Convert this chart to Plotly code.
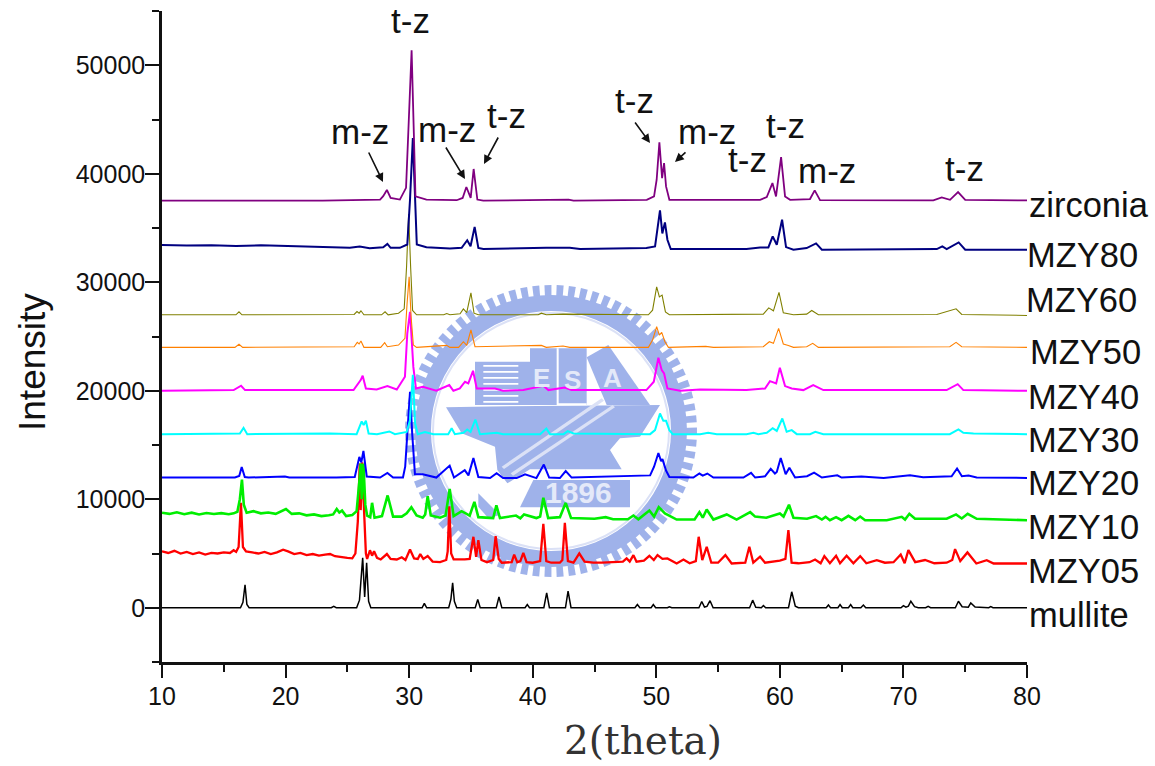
import math
import plotly.graph_objects as go

# ---- diffractogram readings: (2 theta, intensity) ----
mullite = [(10,0),(16.35,0),(16.55,500),(16.72,2120),(16.87,300),(17.05,0),(23.7,0),(23.9,120),(24.1,0),(25.75,0),(25.98,700),(26.1,2300),(26.24,4600),(26.4,1000),(26.56,4150),(26.72,600),(26.9,0),
 (31.05,0),(31.23,400),(31.42,0),(33.2,0),(33.38,800),(33.52,2300),(33.66,600),(33.85,0),(35.35,0),(35.55,770),(35.75,0),(37.05,0),(37.27,1000),(37.5,0),(39.38,0),(39.56,300),(39.74,0),
 (40.9,0),(41.13,1380),(41.35,0),(42.65,0),(42.86,1530),(43.1,0),(48.27,0),(48.47,300),(48.67,0),(49.58,0),(49.76,300),(49.95,0),(50.9,0),(51.06,90),(51.25,0),(53.45,0),(53.68,580),(53.9,60),(54.1,120),(54.35,650),(54.6,0),
 (57.55,0),(57.8,700),(58.05,50),(58.5,0),(58.67,200),(58.85,0),(60.7,0),(60.96,1470),(61.25,150),(61.5,0),(63.75,0),(63.93,250),(64.1,0),(64.7,0),(64.87,300),(65.05,0),(65.55,0),(65.73,300),(65.9,0),(66.55,0),(66.76,250),(66.95,0),
 (69.8,0),(70.0,200),(70.2,60),(70.4,150),(70.6,600),(70.9,100),(71.2,0),(71.8,0),(72.0,120),(72.2,0),(74.2,0),(74.45,600),(74.75,100),(75.25,50),(75.45,450),(75.8,60),(76.9,0),(77.07,100),(77.25,0),(80,0)]

mzy05 = [(10,5200),(10.5,5050),(11,5250),(11.5,5000),(12,5150),(12.5,4950),(13,5100),(13.5,4900),(14,5050),(14.5,5000),(15,5100),(15.5,5050),(15.8,5300),(16,5150),(16.2,5600),(16.39,9670),(16.55,5600),(16.8,5200),(17.3,5100),(17.8,5000),(18.3,5150),(18.8,4950),(19.3,5100),(19.8,5350),(20.2,5200),(20.7,4950),(21.2,5050),(21.7,4850),(22.2,4950),(22.7,4800),(23.2,4900),(23.6,4950),(24,4750),(24.5,4650),(25,4600),(25.4,4550),(25.65,5000),(25.85,8000),(26.0,13300),(26.08,9000),(26.2,13400),(26.35,9000),(26.5,5000),(26.6,4500),(26.83,5300),(27,4800),(27.16,5200),(27.4,4600),(27.7,4450),(28.2,4950),(28.5,4500),(29,4450),(29.4,4650),(29.7,4400),(30.07,5370),(30.4,4550),(30.7,4500),(30.9,4950),(31.15,4500),(31.5,4760),(31.9,4250),(32.5,4200),(33.0,4400),(33.12,5200),(33.25,9360),(33.4,5000),(33.6,4450),(34.5,4450),(34.9,4500),(35.2,6540),(35.42,4700),(35.6,6230),(35.85,4400),(36.3,4200),(36.8,4400),(37.0,6600),(37.25,4500),(37.5,4150),(38.3,4200),(38.5,4900),(38.75,4200),(39.0,4300),(39.24,5060),(39.5,4200),(40.0,4150),(40.6,4300),(40.86,7740),(41.1,4300),(41.5,4150),(42.2,4150),(42.4,4400),(42.6,7830),(42.85,4300),(43.3,4150),(43.77,5000),(44.2,4250),(44.9,4150),(45.6,4150),(46.5,4200),(47.3,4250),(47.6,4550),(47.85,4250),(48.15,4850),(48.4,4250),(49.0,4350),(49.44,4790),(49.8,4400),(50.1,4850),(50.5,4500),(50.9,4550),(51.65,4080),(52.2,4450),(52.7,4100),(53.2,4300),(53.43,6540),(53.72,4400),(54.08,5620),(54.45,4150),(55.0,4150),(55.59,4850),(56.1,4080),(57.2,4150),(57.53,5620),(57.85,4150),(58.4,4700),(58.8,4150),(60,4350),(60.45,4500),(60.69,7150),(60.95,4150),(61.5,4100),(62.4,4200),(62.85,4450),(63.3,4100),(63.6,4760),(64.05,4100),(64.55,4790),(64.87,4100),(65.4,4790),(65.95,4100),(66.5,4760),(67.0,4100),(67.84,4390),(68.5,4150),(69.2,4200),(69.78,4910),(70.1,4100),(70.4,5310),(70.95,4200),(71.75,4400),(72.5,4100),(73.5,4150),(73.95,4400),(74.18,5400),(74.6,4300),(75.18,5100),(75.9,4080),(76.74,4390),(77.3,4080),(80,4080)]

mzy10 = [(10,8750),(10.6,8650),(11.2,8800),(11.8,8620),(12.4,8760),(13,8600),(13.6,8730),(14.2,8640),(14.8,8720),(15.4,8620),(15.8,8700),(16.1,8850),(16.3,10000),(16.47,11800),(16.62,9500),(16.85,8750),(17.4,8900),(18,8700),(18.6,8780),(19.2,8650),(20.03,9100),(20.5,8650),(21.1,8700),(21.7,8520),(22.3,8600),(22.9,8450),(23.5,8520),(23.85,8600),(24.14,9100),(24.35,8780),(24.57,8950),(24.9,8450),(25.4,8550),(25.75,8900),(26.0,12000),(26.08,13300),(26.16,10000),(26.3,13300),(26.45,9500),(26.6,8500),(26.85,8350),(27.0,9670),(27.2,8300),(27.8,8450),(28.26,10350),(28.7,8400),(29.4,8400),(29.8,8700),(30.18,9270),(30.6,8500),(31.1,8300),(31.3,8600),(31.5,10280),(31.75,8500),(32.5,8300),(32.95,8500),(33.28,10960),(33.6,8450),(34.25,8900),(34.6,8700),(34.9,8500),(35.28,9760),(35.6,8350),(36.8,8270),(37.06,9430),(37.35,8270),(38.65,8500),(39.0,8250),(39.3,8600),(40.3,8270),(40.6,8400),(40.86,10130),(41.25,8270),(42.2,8350),(42.67,9670),(43.1,8270),(45.0,8200),(45.9,8350),(46.5,8150),(47.7,8150),(48.15,8500),(48.55,8150),(49.44,8960),(49.82,8400),(50.2,9270),(50.7,8700),(51.65,8130),(53.1,8130),(53.49,8810),(53.76,8300),(54.08,9060),(54.62,8130),(55.7,8600),(56.5,8130),(57.6,8810),(58.0,8400),(58.9,8300),(60.0,8690),(60.3,8400),(60.74,9490),(61.1,8300),(62.2,8200),(62.93,8450),(63.4,8130),(63.7,8380),(64.05,8070),(64.55,8350),(65.0,8070),(65.55,8470),(66.1,8070),(66.5,8410),(66.9,8070),(68.65,8070),(69.86,8380),(70.13,8130),(70.48,8660),(70.94,8200),(73.5,8200),(74.26,8600),(74.72,8230),(75.2,8660),(75.93,8200),(80,8070)]

mzy20 = [(10,12000),(13,12030),(15.9,12000),(16.25,12150),(16.45,12980),(16.7,12050),(17,12000),(19.95,12100),(20.3,12000),(24.1,12000),(25.6,12050),(25.97,13900),(26.13,13400),(26.3,14450),(26.57,12100),(27.65,12000),(28.24,12430),(28.7,12000),(29.5,12000),(29.68,13000),(29.87,16000),(30.07,19900),(30.25,16000),(30.47,12300),(31.1,12300),(32.2,12000),(33.28,13100),(33.63,12000),(34.5,12680),(34.8,12200),(35.2,13800),(35.6,12050),(36.55,11950),(37.08,12400),(37.6,11950),(38.7,11950),(39.38,12300),(40.3,11950),(40.9,13200),(41.33,12000),(42.2,11950),(42.67,12600),(43.15,12000),(48.28,12150),(49.5,12200),(49.82,13000),(50.17,14260),(50.39,13500),(50.5,13700),(50.79,12650),(51.06,12050),(53.0,12000),(53.49,12370),(53.76,12180),(54.13,12370),(54.62,12000),(57.05,12000),(57.67,12430),(58.0,12000),(58.8,12120),(59.26,12800),(59.6,12370),(59.75,12520),(60.07,13800),(60.47,12300),(60.77,12900),(61.23,12000),(62.2,12120),(62.77,12460),(63.4,12000),(64.65,12210),(65.0,12000),(66.6,12090),(68.4,11970),(70.53,12210),(71.6,12030),(73.9,12120),(74.34,12830),(74.73,12120),(75.27,12180),(75.93,12000),(80,11970)]

mzy30 = [(10,16000),(15.9,16000),(16.3,16050),(16.6,16580),(16.9,16000),(23.6,16060),(25.75,16000),(26.16,17170),(26.32,16840),(26.5,17230),(26.72,16060),(27.4,16000),(28.4,16250),(28.85,16000),(29.8,16200),(30.07,17300),(30.3,21470),(30.48,17000),(30.7,16000),(31.28,16200),(31.96,16000),(33.16,16000),(33.44,16550),(33.7,16000),(34.4,16120),(34.7,16430),(34.97,16200),(35.36,17350),(35.73,16000),(37.1,16120),(37.6,16000),(40.6,16000),(41.1,16520),(41.4,16000),(42.5,16000),(42.83,16280),(43.3,16060),(49.5,16000),(49.9,16370),(50.3,17900),(50.57,17230),(50.79,17230),(51.06,16370),(51.33,16000),(53.55,16000),(54.2,16120),(54.9,16000),(57.3,16000),(57.86,16120),(58.26,16000),(58.94,16120),(59.42,16550),(59.75,16300),(60.2,17440),(60.55,16220),(60.96,16370),(61.37,16000),(62.44,16000),(62.87,16220),(63.52,16000),(73.75,16000),(74.45,16430),(74.85,16120),(75.67,16060),(80,16000)]

mzy40 = [(10,20000),(15.8,20060),(16.4,20460),(16.72,20060),(25.5,20060),(25.9,20740),(26.08,20980),(26.24,21380),(26.5,20210),(27.37,20120),(28.24,20430),(29.0,20120),(29.66,21290),(29.85,25300),(30.07,27280),(30.34,22200),(30.55,20210),(31.1,20370),(32.2,20000),(33.25,20520),(33.58,20000),(34.1,20210),(34.52,20830),(34.79,20680),(35.17,21840),(35.47,20210),(36.95,20210),(37.6,20000),(39.24,20060),(40.86,20460),(41.27,20060),(42.6,20300),(43.14,20060),(49.2,20060),(49.8,20830),(50.17,23040),(50.44,21900),(50.63,21600),(50.9,20210),(51.93,20000),(53.55,20120),(57.3,20060),(58.8,20210),(59.2,20890),(59.7,20680),(60.0,22120),(60.42,20430),(60.96,20210),(61.9,20060),(62.7,20520),(63.52,20060),(73.5,20060),(74.39,20610),(74.85,20060),(80,20000)]

mzy50 = [(10,24000),(15.9,24000),(16.23,24280),(16.53,24000),(25.55,24060),(25.8,24460),(25.95,24310),(26.1,24580),(26.34,24000),(27.7,24000),(28.02,24430),(28.24,24060),(29.14,24210),(29.66,24830),(29.83,28000),(30.0,30500),(30.16,26800),(30.34,24210),(30.6,24000),(33.04,24180),(33.3,24000),(34.0,24000),(34.39,24520),(34.66,24180),(35.0,25600),(35.33,24060),(40.7,24180),(41.1,24000),(42.45,24120),(43.0,24000),(49.36,24000),(49.7,24670),(50.03,25900),(50.25,25130),(50.44,25380),(50.7,24520),(50.98,24000),(53.27,24060),(54.0,24090),(54.62,24000),(58.66,24060),(59.15,24520),(59.48,24370),(59.9,25750),(60.28,24310),(60.69,24180),(61.1,24000),(62.17,24060),(62.66,24370),(63.12,24000),(73.75,24060),(74.26,24460),(74.72,24060),(80,24000)]

mzy60 = [(10,27000),(15.98,27000),(16.23,27280),(16.47,27000),(25.55,27030),(25.78,27300),(25.95,27150),(26.1,27370),(26.34,27000),(27.77,27000),(28.05,27280),(28.3,27000),(29.14,27150),(29.6,27550),(29.79,31400),(29.96,36300),(30.12,31400),(30.28,27400),(30.6,27000),(32.8,27000),(33.04,27120),(33.3,27000),(34.12,27090),(34.39,27550),(34.66,27210),(35.0,29030),(35.25,27150),(35.6,27000),(40.45,27000),(40.7,27150),(41.1,27000),(42.45,27060),(49.36,27000),(49.7,27430),(50.03,29580),(50.25,28650),(50.47,28810),(50.74,27270),(51.06,27000),(58.66,27060),(59.1,27640),(59.48,27370),(59.93,29060),(60.28,27180),(61.1,27000),(62.17,27060),(62.58,27400),(63.12,27000),(72.7,27030),(74.26,27550),(74.72,27030),(80,26940)]

mzy80 = [(10,33440),(12,33380),(14,33420),(16,33350),(18,33400),(20,33340),(22,33300),(24,33230),(25.2,33170),(26,33290),(26.8,33130),(27.9,33230),(28.24,33530),(28.5,33170),(29.25,33170),(29.85,33480),(30.07,37600),(30.3,43300),(30.48,37600),(30.62,33480),(31.4,33230),(33.3,33100),(34.25,33170),(34.7,33870),(34.97,33320),(35.3,35100),(35.6,33170),(36,33070),(41.1,33170),(43,33170),(43.83,33060),(49.2,33150),(49.9,33300),(50.09,34840),(50.3,36620),(50.49,34500),(50.7,35520),(50.9,33920),(51.17,33060),(57.3,33060),(58.4,33210),(59.07,33210),(59.42,34230),(59.75,33460),(60.18,35760),(60.5,33240),(61.1,33000),(62.17,33150),(62.93,33580),(63.4,33000),(72.7,33060),(73.15,33300),(73.5,33060),(74.47,33670),(75.0,33000),(80,33000)]

zirconia = [(10,37525),(23,37525),(27.65,37620),(27.9,37930),(28.2,38510),(28.5,37770),(29.25,37620),(29.75,38700),(29.93,43760),(30.2,51370),(30.38,43760),(30.51,37920),(31.4,37620),(33.85,37560),(34.33,37770),(34.63,38780),(34.98,37770),(35.22,40440),(35.52,37620),(36,37525),(42.9,37620),(43.3,37525),(49.23,37600),(49.82,37910),(50.03,39450),(50.25,42890),(50.47,39600),(50.63,40980),(50.79,38830),(51.06,37600),(55.2,37600),(58.4,37600),(58.94,37850),(59.4,39140),(59.69,37910),(60.1,41540),(60.42,37910),(60.83,37600),(62.44,37670),(62.82,38470),(63.25,37570),(72.42,37540),(73.1,37820),(73.77,37600),(74.42,38310),(75.0,37600),(80,37540)]

series_names = ["mullite", "MZY05", "MZY10", "MZY20", "MZY40", "MZY30", "MZY50", "MZY60", "MZY80", "zirconia"]
series_data = [mullite, mzy05, mzy10, mzy20, mzy40, mzy30, mzy50, mzy60, mzy80, zirconia]
series_colors = ["#000000", "#ff0000", "#00ee00", "#0000ff", "#ff00ff", "#00ffff", "#ff8000", "#808000", "#000080", "#800080"]
series_widths = [1.5, 2.3, 2.6, 2, 2, 2, 1.1, 1.1, 2, 1.8]

W, H = 1155, 766
L, R, T, B = 162, 1027, 11, 662


def fx(px):
    return (px - L) / (R - L)


def fy(py):
    return (B - py) / (B - T)


fig = go.Figure()
for name, data, color, width in zip(series_names, series_data, series_colors, series_widths):
    xs, ys = zip(*data)
    fig.add_trace(go.Scatter(x=list(xs), y=list(ys), mode="lines", name=name,
                             line=dict(color=color, width=width), showlegend=False,
                             hoverinfo="skip"))

# ---- peak and sample labels (text, left/centre pixel, pixel y) ----
phase_labels = [("t-z", 410, 20), ("m-z", 360, 131), ("m-z", 447, 130), ("t-z", 506, 116), ("t-z", 634, 101),
                ("m-z", 707, 131), ("t-z", 785, 125), ("t-z", 747, 160), ("m-z", 827, 170), ("t-z", 964, 168)]
sample_labels = [("zirconia", 1027, 205), ("MZY80", 1025, 255), ("MZY60", 1024, 300), ("MZY50", 1028, 352),
                 ("MZY40", 1026, 397), ("MZY30", 1026, 440), ("MZY20", 1026, 483), ("MZY10", 1026, 527),
                 ("MZY05", 1026, 571), ("mullite", 1027, 615)]
arrows = [(368, 151, 383, 182), (445, 146, 465, 179), (499, 136, 484, 164), (634, 121, 650, 143), (687, 151, 675, 162)]

ann = []
for t, px, py in phase_labels:
    ann.append(dict(text=t, x=fx(px), y=fy(py), xref="paper", yref="paper", showarrow=False,
                    xanchor="center", yanchor="middle", font=dict(family="Liberation Sans", size=35, color="#111111")))
for t, px, py in sample_labels:
    ann.append(dict(text=t, x=fx(px), y=fy(py), xref="paper", yref="paper", showarrow=False,
                    xanchor="left", yanchor="middle", font=dict(family="Liberation Sans", size=34.5, color="#111111")))
for x0, y0, x1, y1 in arrows:
    ann.append(dict(text="", x=fx(x1), y=fy(y1), ax=x0 - x1, ay=y0 - y1, xref="paper", yref="paper",
                    showarrow=True, arrowhead=2, arrowsize=1.1,
                    arrowwidth=1.6, arrowcolor="#111111"))
ann.append(dict(text="Intensity", x=fx(32), y=fy(362), xref="paper", yref="paper", showarrow=False, textangle=-90,
                xanchor="center", yanchor="middle",
                font=dict(family="Liberation Sans", size=37, color="#111111")))
ann.append(dict(text="2(theta)", x=fx(643), y=fy(740), xref="paper", yref="paper", showarrow=False,
                xanchor="center", yanchor="middle",
                font=dict(family="DejaVu Serif", size=39, color="#333333")))

# ---- faint emblem behind the curves ----
BLUE, PALE = "#9fb2ea", "#dbe1f6"
CX, CY = 551, 431
shapes = []


def poly(points, fill=BLUE):
    d = "M" + "L".join(f"{fx(a)},{fy(b)}" for a, b in points) + "Z"
    shapes.append(dict(type="path", path=d, xref="paper", yref="paper", fillcolor=fill,
                       line=dict(width=0), layer="below"))


def zp(points, fill=BLUE):
    poly([(420 + a / 3, 270 + b / 3) for a, b in points], fill)


def ring(r, width, color):
    shapes.append(dict(type="circle", xref="paper", yref="paper", x0=fx(CX - r), x1=fx(CX + r),
                       y0=fy(CY + r), y1=fy(CY - r), line=dict(color=color, width=width), layer="below"))


for k in range(75):
    a = 2 * math.pi * k / 75
    da = 0.024
    poly([(CX + rr * math.cos(a + s * da), CY + rr * math.sin(a + s * da))
          for rr, s in ((130, -1), (146, -1), (146, 1), (130, 1))])
ring(128, 16, BLUE)
ring(118, 2, PALE)

zp([(78, 412), (165, 410), (720, 405), (660, 500), (600, 505), (570, 540), (605, 598), (330, 598), (262, 640),
    (232, 600), (225, 530), (125, 490)])
zp([(165, 275), (330, 275), (330, 235), (500, 235), (500, 405), (165, 405)])
zp([(500, 262), (565, 225), (690, 405), (560, 405)])
zp([(340, 630), (630, 630), (630, 712), (300, 712)])
zp([(175, 670), (240, 735), (205, 745), (175, 710)])
for yy in (285, 303, 321, 339, 357, 375, 393):
    zp([(190, yy), (295, yy), (295, yy + 5), (190, yy + 5)], "#ffffff")
zp([(410, 235), (416, 235), (416, 400), (500, 400), (500, 406), (410, 406)], "#ffffff")
zp([(245, 590), (545, 385), (552, 392), (252, 597)], PALE)
zp([(272, 610), (578, 405), (585, 412), (279, 617)], PALE)
for t, a, b, size in (("1896", 475, 668, 30), ("E", 365, 325, 26), ("S", 458, 330, 26), ("A", 578, 325, 26)):
    ann.append(dict(text=t, x=fx(420 + a / 3), y=fy(270 + b / 3), xref="paper", yref="paper", showarrow=False,
                    xanchor="center", yanchor="middle",
                    font=dict(family="Liberation Sans", size=size, color="#e4e9f9", weight="bold")))

fig.update_layout(
    width=W, height=H, margin=dict(l=L, r=W - R, t=T, b=H - B),
    paper_bgcolor="white", plot_bgcolor="rgba(0,0,0,0)",
    annotations=ann, shapes=shapes,
    xaxis=dict(range=[10, 80], dtick=10, tick0=10, ticks="outside", ticklen=13, tickwidth=2, tickcolor="#111111",
               showline=True, linecolor="#111111", linewidth=2.5, showgrid=False, zeroline=False, ticklabelstandoff=-3,
               tickfont=dict(family="Liberation Sans", size=25, color="#111111"),
               minor=dict(dtick=5, tick0=10, ticks="outside", ticklen=7, tickwidth=2, tickcolor="#111111", showgrid=False)),
    yaxis=dict(range=[-5000, 55000], dtick=10000, tick0=0, ticks="outside", ticklen=14, tickwidth=2, tickcolor="#111111",
               showline=True, linecolor="#111111", linewidth=2.5, showgrid=False, zeroline=False, ticklabelstandoff=-5,
               tickformat="d", tickfont=dict(family="Liberation Sans", size=25, color="#111111"),
               minor=dict(dtick=5000, tick0=-5000, ticks="outside", ticklen=7, tickwidth=2, tickcolor="#111111", showgrid=False)),
)

fig.write_html("out.html", config=dict(displayModeBar=False),
               post_script="document.body.style.margin='0';document.body.style.overflow='hidden';")
